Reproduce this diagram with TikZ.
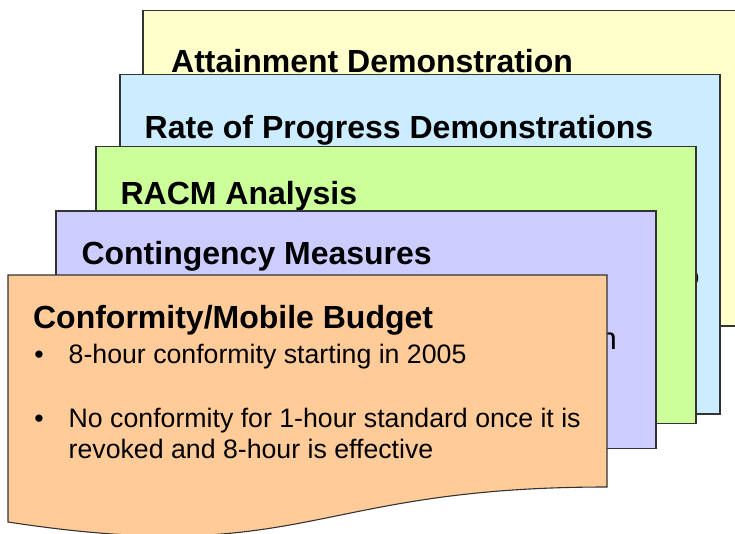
\documentclass[tikz,border=0pt]{standalone}
\usepackage{fontspec}
\setmainfont{Liberation Sans}
\definecolor{cardyellow}{HTML}{FFFFCC}
\definecolor{cardblue}{HTML}{CCECFF}
\definecolor{cardgreen}{HTML}{CCFF99}
\definecolor{cardpurple}{HTML}{CCCCFF}
\definecolor{cardorange}{HTML}{FFCC99}
\definecolor{cardedge}{HTML}{333333}
\tikzset{
  card/.style={draw=cardedge, line width=1.1pt, line join=miter},
  cardtitle/.style={anchor=base west, inner sep=0pt, font=\fontsize{32pt}{36pt}\selectfont\bfseries},
  bodyline/.style={anchor=base west, inner sep=0pt, font=\fontsize{26.7pt}{30.5pt}\selectfont},
  bulletmark/.style={anchor=base, inner sep=0pt, font=\fontsize{26.7pt}{30.5pt}\selectfont},
  hiddenbit/.style={anchor=base east, inner sep=0pt}
}
\begin{document}
\begin{tikzpicture}[x=1pt, y=-1pt]
\useasboundingbox (0,0) rectangle (735,533);
% yellow card
\fill[cardyellow] (143,10.7) rectangle (760,326);
\draw[card] (760,10.7) -- (143,10.7) -- (143,326) -- (760,326);
\node[cardtitle] (t1) at (171,72.7) {Attainment Demonstration};
% blue card
\draw[card, fill=cardblue] (120,74.7) rectangle (720,414);
\node[cardtitle] (t2) at (144.5,138.3) {Rate of Progress Demonstrations};
\node[hiddenbit, font=\fontsize{26.6pt}{30pt}\selectfont] (frag1) at (699.6,285) {o};
% green card
\draw[card, fill=cardgreen] (96,146.7) rectangle (696,423.3);
\node[cardtitle] (t3) at (120.4,204) {RACM Analysis};
% purple card
\draw[card, fill=cardpurple] (56,211) rectangle (656,448.3);
\node[cardtitle] (t4) at (81.3,264) {Contingency Measures};
\node[hiddenbit, font=\fontsize{31pt}{36pt}\selectfont] (frag2) at (617,349) {n};
% orange card (document shape)
\draw[card, fill=cardorange] (8,275) -- (607,275) -- (607,487)
  .. controls (307.5,487) and (307.5,567.8) .. (8,522) -- cycle;
\node[cardtitle] (t5) at (32.9,328) {Conformity/Mobile Budget};
\node[bulletmark] (b1) at (39,363) {•};
\node[bodyline] (l1) at (68.5,363) {8-hour conformity starting in 2005};
\node[bulletmark] (b2) at (39,427.7) {•};
\node[bodyline] (l2) at (68.5,427.7) {No conformity for 1-hour standard once it is};
\node[bodyline] (l3) at (68.5,458) {revoked and 8-hour is effective};
\end{tikzpicture}
\end{document}
